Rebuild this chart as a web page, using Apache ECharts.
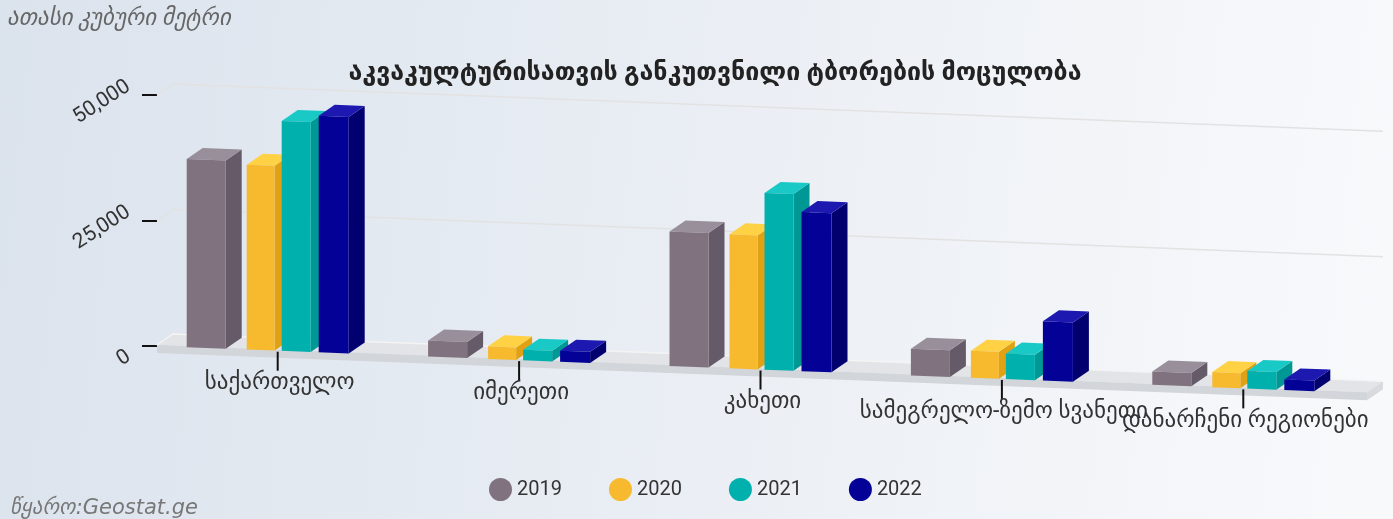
<!DOCTYPE html>
<html>
<head>
<meta charset="utf-8">
<script src="https://cdn.jsdelivr.net/npm/echarts@6/dist/echarts.min.js"></script>
<style>
    html, body {margin: 0; padding: 0;}
    #container {width: 1393px; height: 519px;}
</style>
</head>
<body>
<div id="container"></div>
<script>
// რეგიონები
let categories = ['საქართველო', 'იმერეთი', 'კახეთი', 'სამეგრელო-ზემო სვანეთი', 'დანარჩენი რეგიონები'];
let years = ['2019', '2020', '2021', '2022'];
// ათასი კუბური მეტრი
let y2019 = [37500, 3200, 26800, 5300, 2650];
let y2020 = [36800, 2500, 26700, 5400, 3000];
let y2021 = [45800, 2100, 35200, 5100, 3500];
let y2022 = [47100, 2200, 31700, 11800, 2100];
let yTicks = [0, 25000, 50000];

let fontFam = "Roboto, 'DejaVu Sans', sans-serif";
// front / side / top
let faceColors = [
    ['#80737f', '#655a67', '#998f9a'],
    ['#f7b92e', '#e0a214', '#ffd144'],
    ['#00b0ad', '#009894', '#19c9c6'],
    ['#040296', '#02006f', '#1c18b0']
];
// bar left/right edges relative to category centre (px at band width 241.4)
let barEdges = [[-91, -52], [-31, -3], [4, 33], [41, 71]];
let slope = 0.039;     // tilt of the floor
let depth = [16, -11]; // 3d depth offset

let dom = document.getElementById('container');
let myChart = echarts.init(dom);

function shear(params, x) {
    return slope * (x - params.coordSys.x);
}

function barRender(si) {
    return function (params, api) {
        let cat = api.value(0);
        let c = api.coord([cat, 0]);
        let top = api.coord([cat, api.value(1)])[1];
        let s = api.size([1, 0])[0] / 241.4;
        let xl = c[0] + barEdges[si][0] * s;
        let xr = c[0] + barEdges[si][1] * s;
        let bl = c[1] + shear(params, xl), br = c[1] + shear(params, xr);
        let tl = top + shear(params, xl), tr = top + shear(params, xr);
        let dx = depth[0], dy = depth[1];
        let col = faceColors[si];
        return {
            type: 'group',
            children: [
                {type: 'polygon', shape: {points: [[xr, br], [xr + dx, br + dy], [xr + dx, tr + dy], [xr, tr]]}, style: {fill: col[1]}},
                {type: 'polygon', shape: {points: [[xl, tl], [xr, tr], [xr + dx, tr + dy], [xl + dx, tl + dy]]}, style: {fill: col[2]}},
                {type: 'polygon', shape: {points: [[xl, bl], [xr, br], [xr, tr], [xl, tl]]}, style: {fill: col[0]}}
            ]
        };
    };
}

function gridRender(params, api) {
    let y = api.coord([0, api.value(1)])[1];
    let cs = params.coordSys;
    let x0 = cs.x, x1 = cs.x + cs.width + 19;
    let dx = depth[0], dy = depth[1];
    return {
        type: 'polyline',
        shape: {points: [[x0, y], [x0 + dx, y + dy], [x1, y + dy + slope * (x1 - x0 - dx)]]},
        style: {stroke: '#e2e2e2', lineWidth: 1.5, fill: null}
    };
}

function floorRender(params, api) {
    let cs = params.coordSys;
    let y0 = api.coord([0, 0])[1];
    let x0 = cs.x, x1 = cs.x + cs.width + 3;
    let dx = depth[0], dy = depth[1];
    let f0 = y0 - 1, f1 = y0 - 1 + slope * (x1 - x0);
    let th = 8;
    return {
        type: 'group',
        children: [
            {type: 'polygon', shape: {points: [[x0, f0], [x1, f1], [x1 + dx, f1 + dy], [x0 + dx, f0 + dy]]}, style: {fill: '#e2e4e7'}},
            {type: 'polygon', shape: {points: [[x0, f0], [x1, f1], [x1, f1 + th], [x0, f0 + th]]}, style: {fill: '#d2d5d9'}},
            {type: 'polygon', shape: {points: [[x1, f1], [x1 + dx, f1 + dy], [x1 + dx, f1 + dy + th], [x1, f1 + th]]}, style: {fill: '#d8dadd'}},
            {type: 'polyline', shape: {points: [[x0, f0], [x0 + dx, f0 + dy], [x1 + dx, f1 + dy]]}, style: {stroke: '#f4f4f4', lineWidth: 1.5, fill: null}}
        ]
    };
}

function xLabelRender(params, api) {
    let idx = api.value(0);
    let c = api.coord([idx, 0]);
    let b = c[1] + shear(params, c[0]);
    return {
        type: 'group',
        children: [
            {type: 'line', shape: {x1: c[0], y1: b + 1, x2: c[0], y2: b + 20}, style: {stroke: '#111', lineWidth: 2}},
            {type: 'text', style: {text: categories[idx], x: c[0] + 2, y: b + 33, align: 'center', verticalAlign: 'middle', fill: '#333', fontSize: 23, fontFamily: fontFam}}
        ]
    };
}

let seriesData = [y2019, y2020, y2021, y2022];
let barSeries = years.map(function (name, si) {
    return {
        name: name,
        type: 'custom',
        z: 4,
        itemStyle: {color: faceColors[si][0]},
        renderItem: barRender(si),
        data: seriesData[si].map(function (v, i) { return [i, v]; })
    };
});

option = {
    animation: false,
    backgroundColor: {
        type: 'linear', x: 0, y: 0, x2: 1, y2: 0.3,
        colorStops: [{offset: 0, color: '#dbe3ed'}, {offset: 1, color: '#f8f9fb'}]
    },
    textStyle: {fontFamily: fontFam},
    title: {
        text: 'აკვაკულტურისათვის განკუთვნილი ტბორების მოცულობა',
        left: 710,
        top: 56,
        textAlign: 'center',
        textStyle: {fontSize: 25, fontWeight: 'bold', color: '#222', fontFamily: fontFam}
    },
    graphic: [
        {type: 'text', left: 7, top: 8, style: {text: 'ათასი კუბური მეტრი', fill: '#666', fontSize: 23, fontStyle: 'italic', fontFamily: fontFam}},
        {type: 'text', left: 10, top: 498, style: {text: 'წყარო:Geostat.ge', fill: '#777', fontSize: 21, fontStyle: 'italic', fontFamily: "'DejaVu Sans', sans-serif"}}
    ],
    legend: {
        data: years,
        left: 484,
        bottom: 13,
        icon: 'circle',
        itemWidth: 23,
        itemHeight: 23,
        itemGap: 47,
        textStyle: {color: '#333', fontSize: 20, fontFamily: fontFam}
    },
    grid: {
        left: 157,
        width: 1207,
        top: 95,
        height: 251
    },
    xAxis: {
        type: 'category',
        data: categories,
        axisLine: {show: false},
        axisTick: {show: false},
        axisLabel: {show: false}
    },
    yAxis: {
        type: 'value',
        min: 0,
        max: 50000,
        interval: 25000,
        splitLine: {show: false},
        axisLine: {show: false},
        axisTick: {show: true, length: 15, lineStyle: {color: '#111', width: 2}},
        axisLabel: {
            rotate: 33,
            margin: 22,
            verticalAlign: 'middle',
            color: '#333',
            fontSize: 21,
            fontFamily: fontFam,
            formatter: function (v) {
                return v === 0 ? '{s|0}' : '{l|' + v.toLocaleString('en-US') + '}';
            },
            rich: {
                s: {fontSize: 21, color: '#333', padding: [8, 10, 0, 0]},
                l: {fontSize: 21, color: '#333', padding: [0, 0, 24, 0]}
            }
        }
    },
    series: [
        {name: 'grid', type: 'custom', z: 1, silent: true, renderItem: gridRender, data: yTicks.map(function (v) { return [0, v]; })},
        {name: 'floor', type: 'custom', z: 2, silent: true, renderItem: floorRender, data: [[0, 0]]},
        {name: 'axis', type: 'custom', z: 3, silent: true, renderItem: xLabelRender, data: categories.map(function (c, i) { return [i, 0]; })}
    ].concat(barSeries)
};
if (option && typeof option === "object") {
    myChart.setOption(option, true);
}
window.onresize = function () {
    myChart.resize();
}
</script>
</body>
</html>
